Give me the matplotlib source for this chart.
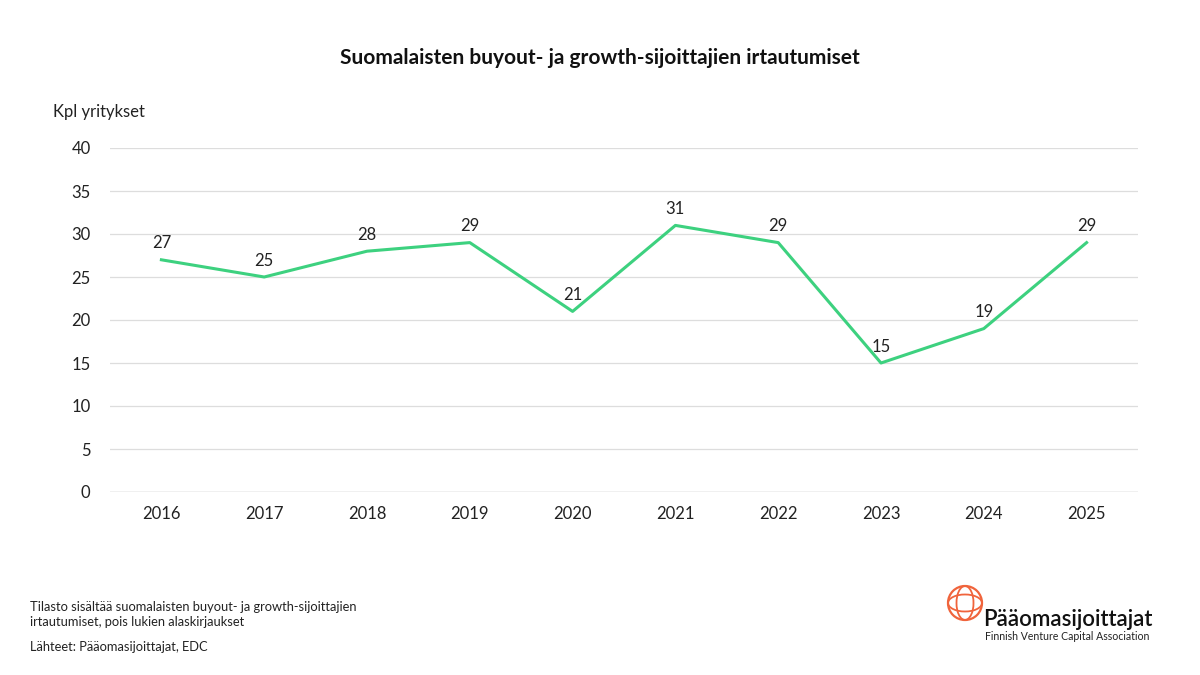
import matplotlib.pyplot as plt
from matplotlib.patches import Circle, Arc

plt.rcParams['font.family'] = ['Lato', 'DejaVu Sans']

vuodet = ["2016", "2017", "2018", "2019", "2020", "2021", "2022", "2023", "2024", "2025"]
irtautumiset = [27, 25, 28, 29, 21, 31, 29, 15, 19, 29]

fig = plt.figure(figsize=(12, 6.75), dpi=100)
ax = fig.add_axes([110 / 1200, 1 - 492 / 675, 1028 / 1200, 344 / 675])

x = list(range(len(vuodet)))
ax.plot(x, irtautumiset, color="#3dd17f", linewidth=2.2)
for i, v in zip(x, irtautumiset):
    ax.annotate(str(v), (i, v), xytext=(0, 6), textcoords="offset points",
                ha="center", va="bottom", fontsize=12, color="#222222")

ax.set_xlim(-0.5, len(vuodet) - 0.5)
ax.set_ylim(0, 40)
ax.set_yticks(range(0, 41, 5))
ax.set_xticks(x)
ax.set_xticklabels(vuodet)
ax.tick_params(axis="both", length=0, labelsize=12, colors="#222222")
ax.tick_params(axis="y", pad=14)
ax.tick_params(axis="x", pad=10)
ax.grid(axis="y", color="#dddddd", linewidth=0.9)
ax.set_axisbelow(True)
for s in ax.spines.values():
    s.set_visible(False)
ax.axhline(0, color="#cccccc", linewidth=1)

fig.text(0.5, 1 - 58 / 675, "Suomalaisten buyout- ja growth-sijoittajien irtautumiset",
         ha="center", va="center", fontsize=15, fontweight="bold", color="#111111")
fig.text(53 / 1200, 1 - 112 / 675, "Kpl yritykset", ha="left", va="center",
         fontsize=12, color="#222222")

fig.text(30 / 1200, 1 - 607 / 675, "Tilasto sisältää suomalaisten buyout- ja growth-sijoittajien",
         ha="left", va="center", fontsize=9.3, color="#222222")
fig.text(30 / 1200, 1 - 622 / 675, "irtautumiset, pois lukien alaskirjaukset",
         ha="left", va="center", fontsize=9.3, color="#222222")
fig.text(30 / 1200, 1 - 647 / 675, "Lähteet: Pääomasijoittajat, EDC",
         ha="left", va="center", fontsize=9.3, color="#222222")

# logo
lax = fig.add_axes([0, 0, 1, 1], facecolor="none")
lax.set_xlim(0, 1200)
lax.set_ylim(675, 0)
lax.axis("off")
oranssi = "#f0643c"
cx, cy, r = 965, 603, 17
lax.add_patch(Circle((cx, cy), r, fill=False, edgecolor=oranssi, linewidth=1.6))
lax.add_patch(Arc((cx, cy), r * 1.0, 2 * r, fill=False, edgecolor=oranssi, linewidth=1.3))
lax.add_patch(Arc((cx, cy), 2 * r, r * 1.0, fill=False, edgecolor=oranssi, linewidth=1.3))
lax.text(983, 619, "Pääomasijoittajat", ha="left", va="center", fontsize=16,
         fontweight="semibold", color="#111111")
lax.text(985, 637, "Finnish Venture Capital Association", ha="left", va="center",
         fontsize=7.6, color="#222222")

fig.savefig("out.png", dpi=100, facecolor="white")
